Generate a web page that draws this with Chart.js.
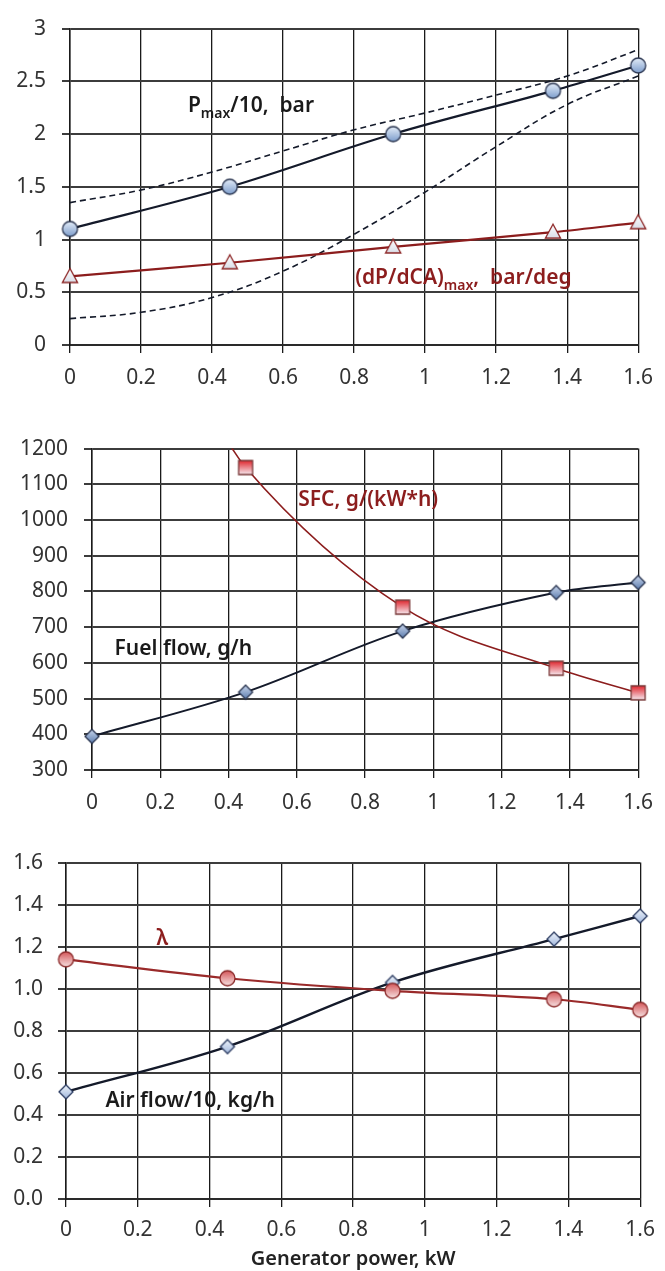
<!DOCTYPE html>
<html>
<head>
<meta charset="utf-8">
<script src="https://cdn.jsdelivr.net/npm/chart.js@4.4.1/dist/chart.umd.min.js"></script>
<style>
  html, body { margin: 0; padding: 0; background: #fff; }
  #page { position: relative; width: 665px; height: 1271px; overflow: hidden; }
  canvas { position: absolute; left: 0; }
</style>
</head>
<body>
<div id="page">
  <canvas id="pressureChart" width="665" height="400" style="top:0px"></canvas>
  <canvas id="fuelChart" width="665" height="415" style="top:420px"></canvas>
  <canvas id="airChart" width="665" height="436" style="top:835px"></canvas>
</div>
<script>
const fontFamily = '"Noto Sans", "DejaVu Sans", sans-serif';

// generator power, kW (measured points)
const powerKw = [0, 0.45, 0.91, 1.36, 1.6];

// top panel
const pmaxBar = [1.1, 1.5, 2.0, 2.41, 2.65];
const dpdcaMax = [0.65, 0.78, 0.93, 1.07, 1.16];
const bandX = [0, 0.2, 0.4, 0.6, 0.8, 1.0, 1.2, 1.4, 1.6];
const pmaxUpper = [1.35, 1.47, 1.64, 1.84, 2.04, 2.2, 2.37, 2.55, 2.8];
const pmaxLower = [0.25, 0.31, 0.45, 0.7, 1.05, 1.45, 1.88, 2.28, 2.55];

// middle panel
const sfcX = [0.4, 0.45, 0.91, 1.36, 1.6];
const sfc = [1215, 1147, 756, 585, 516];
const fuelFlow = [394, 518, 689, 797, 825];

// bottom panel
const lambda = [1.14, 1.05, 0.99, 0.95, 0.90];
const airFlow10 = [0.51, 0.725, 1.03, 1.236, 1.346];

Chart.defaults.font = { family: fontFamily, size: 21 };
Chart.defaults.color = "#333";

function pairs(xs, ys) {
  return xs.map((x, i) => ({ x: x, y: ys[i] }));
}

function marker(shape, r, top, bottom, stroke) {
  const c = document.createElement("canvas");
  const s = Math.ceil(2 * r + 4);
  c.width = s;
  c.height = s;
  const g = c.getContext("2d");
  const m = s / 2;
  const grad = g.createLinearGradient(0, m - r, 0, m + r);
  grad.addColorStop(0, top);
  grad.addColorStop(1, bottom);
  g.beginPath();
  if (shape === "circle") {
    g.arc(m, m, r, 0, Math.PI * 2);
  } else if (shape === "square") {
    g.rect(m - r, m - r, 2 * r, 2 * r);
  } else if (shape === "diamond") {
    g.moveTo(m, m - r);
    g.lineTo(m + r, m);
    g.lineTo(m, m + r);
    g.lineTo(m - r, m);
    g.closePath();
  } else {
    g.moveTo(m, m - r);
    g.lineTo(m + r * 0.95, m + r * 0.75);
    g.lineTo(m - r * 0.95, m + r * 0.75);
    g.closePath();
  }
  g.fillStyle = grad;
  g.fill();
  g.lineWidth = 1.3;
  g.strokeStyle = stroke;
  g.stroke();
  return c;
}

function notesPlugin(items) {
  return {
    id: "notes",
    afterDatasetsDraw(chart) {
      const ctx = chart.ctx;
      const xs = chart.scales.x;
      const ys = chart.scales.y;
      items.forEach(item => {
        let px = xs.getPixelForValue(item.x);
        const py = ys.getPixelForValue(item.y);
        ctx.save();
        ctx.fillStyle = item.color;
        ctx.textBaseline = "middle";
        ctx.textAlign = "left";
        item.parts.forEach(p => {
          const size = p.sub ? 14 : 21;
          ctx.font = `600 ${size}px ${fontFamily}`;
          ctx.fillText(p.text, px, py + (p.sub ? 8 : 0));
          px += ctx.measureText(p.text).width;
        });
        ctx.restore();
      });
    }
  };
}

function buildChart(id, cfg) {
  const scales = {
    x: {
      type: "linear",
      min: 0,
      max: 1.6,
      ticks: {
        stepSize: 0.2,
        padding: cfg.xPad,
        autoSkip: false,
        maxRotation: 0,
        callback: v => String(Math.round(v * 10) / 10)
      },
      grid: { color: "#1a1a1a", lineWidth: 1.3, tickLength: 8 },
      border: { color: "#2a2a2a", width: 2 },
      afterFit: s => { s.height = cfg.xHeight; }
    },
    y: {
      min: cfg.yMin,
      max: cfg.yMax,
      ticks: {
        stepSize: cfg.yStep,
        padding: cfg.yPad,
        callback: cfg.yFmt
      },
      grid: { color: "#3c3c3c", lineWidth: 2, tickLength: 8 },
      border: { color: "#1a1a1a", width: 1.5 },
      afterFit: s => { s.width = cfg.yWidth; }
    }
  };
  if (cfg.xTitle) {
    scales.x.title = {
      display: true,
      text: cfg.xTitle,
      color: "#222",
      font: { size: 20, weight: "600" },
      padding: { top: 0, bottom: 0 }
    };
  }
  return new Chart(document.getElementById(id), {
    type: "line",
    data: { datasets: cfg.datasets },
    options: {
      responsive: false,
      animation: false,
      events: [],
      layout: { padding: { top: cfg.top, right: cfg.right, left: 0, bottom: 0 } },
      plugins: { legend: { display: false }, tooltip: { enabled: false } },
      scales: scales
    },
    plugins: [notesPlugin(cfg.notes)]
  });
}

const darkLine = "#141a2a";
const redLine = "#8c1d1d";
const openClip = { left: 12, right: 12, top: 12, bottom: 12 };

const pmaxMarker = marker("circle", 7.5, "#e3ecf8", "#7d9dcc", "#2a3550");
const dpMarker = marker("triangle", 8, "#ffffff", "#d5dae6", "#8b2323");
const sfcMarker = marker("square", 7, "#e0262e", "#f6eaf0", "#7a3a3a");
const fuelMarker = marker("diamond", 7, "#c9d6ec", "#5c7cae", "#2a3550");
const lambdaMarker = marker("circle", 7.5, "#d5585b", "#f6e2e2", "#8b2a2a");
const airMarker = marker("diamond", 7, "#eef3fa", "#a3b9de", "#2a3a60");

buildChart("pressureChart", {
  top: 22, right: 21, yWidth: 70, xHeight: 55, xPad: 12, yPad: 16,
  yMin: 0, yMax: 3, yStep: 0.5, yFmt: v => String(v),
  datasets: [
    { data: pairs(powerKw, pmaxBar), borderColor: darkLine, borderWidth: 2.2, tension: 0.35,
      pointStyle: pmaxMarker, pointRadius: 7, clip: openClip },
    { data: pairs(powerKw, dpdcaMax), borderColor: redLine, borderWidth: 2.2, tension: 0.35,
      pointStyle: dpMarker, pointRadius: 7, clip: openClip },
    { data: pairs(bandX, pmaxUpper), borderColor: darkLine, borderWidth: 1.6, borderDash: [6, 4],
      tension: 0.4, pointRadius: 0 },
    { data: pairs(bandX, pmaxLower), borderColor: darkLine, borderWidth: 1.6, borderDash: [6, 4],
      tension: 0.4, pointRadius: 0 }
  ],
  notes: [
    { x: 0.332, y: 2.266, color: "#1a1a1a",
      parts: [{ text: "P" }, { text: "max", sub: true }, { text: "/10,  bar" }] },
    { x: 0.803, y: 0.632, color: "#8c1d1d",
      parts: [{ text: "(dP/dCA)" }, { text: "max", sub: true }, { text: ",  bar/deg" }] }
  ]
});

buildChart("fuelChart", {
  top: 23, right: 19, yWidth: 92, xHeight: 65, xPad: 12, yPad: 16,
  yMin: 300, yMax: 1200, yStep: 100, yFmt: v => String(v),
  datasets: [
    { data: pairs(sfcX, sfc), borderColor: redLine, borderWidth: 1.6, cubicInterpolationMode: "monotone",
      pointStyle: sfcMarker, pointRadius: c => (c.dataIndex === 0 ? 0 : 7),
      clip: { left: 12, right: 12, top: 0, bottom: 12 } },
    { data: pairs(powerKw, fuelFlow), borderColor: darkLine, borderWidth: 2, tension: 0.35,
      pointStyle: fuelMarker, pointRadius: 7, clip: openClip }
  ],
  notes: [
    { x: 0.604, y: 1057, color: "#8c1d1d", parts: [{ text: "SFC, g/(kW*h)" }] },
    { x: 0.066, y: 639, color: "#1a1a1a", parts: [{ text: "Fuel flow, g/h" }] }
  ]
});

buildChart("airChart", {
  top: 21, right: 15, yWidth: 66, xHeight: 72, xPad: 10, yPad: 15,
  yMin: 0, yMax: 1.6, yStep: 0.2, yFmt: v => v.toFixed(1),
  xTitle: "Generator power, kW",
  datasets: [
    { data: pairs(powerKw, lambda), borderColor: "#9a2a2a", borderWidth: 2.2, tension: 0.35,
      pointStyle: lambdaMarker, pointRadius: 7, clip: openClip },
    { data: pairs(powerKw, airFlow10), borderColor: darkLine, borderWidth: 2.4, tension: 0.35,
      pointStyle: airMarker, pointRadius: 7, clip: openClip }
  ],
  notes: [
    { x: 0.252, y: 1.236, color: "#8c1d1d", parts: [{ text: "λ" }] },
    { x: 0.110, y: 0.466, color: "#1a1a1a", parts: [{ text: "Air flow/10, kg/h" }] }
  ]
});
</script>
</body>
</html>
